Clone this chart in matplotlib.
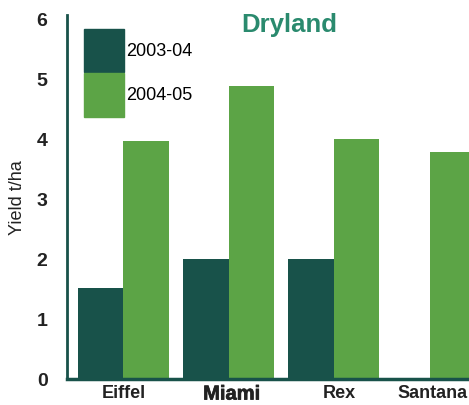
import matplotlib.pyplot as plt
import numpy as np
from matplotlib.patches import Patch
import matplotlib.patheffects as pe

plt.rcParams['font.family'] = ['Liberation Sans', 'DejaVu Sans']

varieties = ['Eiffel', 'Miami', 'Rex', 'Santana']
yield_0304 = [1.52, 2.0, 2.0, 0]
yield_0405 = [3.97, 4.88, 4.0, 3.79]
dark = '#18524a'
green = '#5ca446'

fig = plt.figure(figsize=(4.69, 4.05), dpi=100)
ax = fig.add_axes([67/469, 26/405, 1 - 67/469, 364/405])

x = np.array([0, 1, 2, 2.92])
w = 0.433
# Santana has no 2003-04 value
ax.bar(x[:3] - w/2, yield_0304[:3], w, color=dark)
ax.bar(x + w/2, yield_0405, w, color=green)

ax.set_xlim(-0.538, 3.29)
ax.set_ylim(0, 6.07)
ax.set_yticks(range(7))
ax.set_yticklabels([str(i) for i in range(7)], fontsize=14, fontweight='bold', color='#222222')
ax.set_xticks([0.005, 1.029, 2.052, 2.943])
labels = ax.set_xticklabels(varieties, fontsize=13, fontweight='bold', color='#222222')
labels[1].set_fontsize(14.5)
labels[1].set_path_effects([pe.withStroke(linewidth=0.5, foreground='#222222')])
ax.tick_params(length=0)
ax.tick_params(axis='y', pad=14)
ax.tick_params(axis='x', pad=4)

for s in ['top', 'right']:
    ax.spines[s].set_visible(False)
ax.spines['left'].set_color(dark)
ax.spines['left'].set_linewidth(2)
ax.spines['bottom'].set_color(dark)
ax.spines['bottom'].set_linewidth(2.5)

fig.text(18/469, 1 - 198/405, 'Yield t/ha', rotation=90, fontsize=13,
         ha='center', va='center', color='#222222')
fig.text(289/469, 1 - 25/405, 'Dryland', fontsize=18.5, fontweight='bold',
         color='#2a8a6e', ha='center', va='center')

handles = [Patch(color=dark), Patch(color=green)]
fig.legend(handles, ['2003-04', '2004-05'], loc='upper left',
           bbox_to_anchor=(84/469, 1 - 29/405), frameon=False, fontsize=13,
           handlelength=2.2, handleheight=3.3, handletextpad=0.15,
           labelspacing=0.07, borderpad=0, borderaxespad=0)

fig.savefig('out.png', dpi=100)
